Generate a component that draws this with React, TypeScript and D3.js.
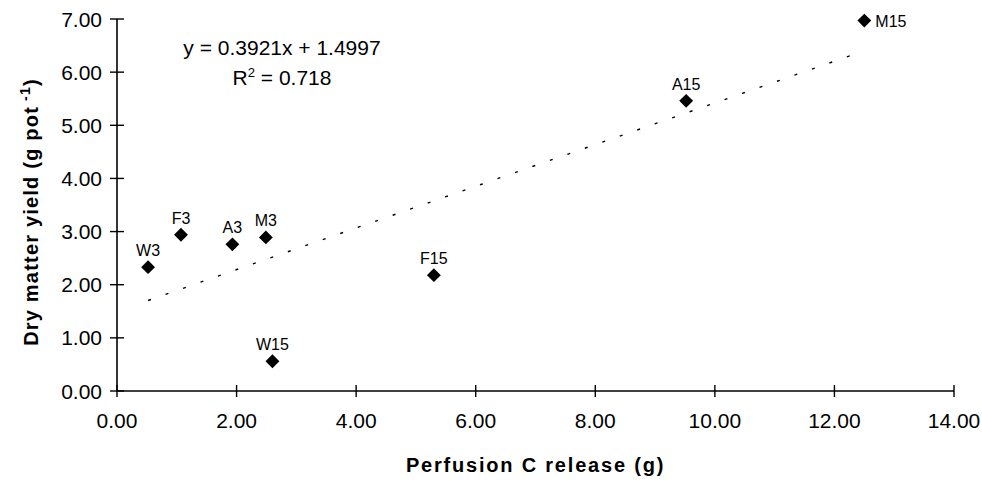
import React from "react";
import * as d3 from "d3";

const labels = ["W3", "F3", "A3", "M3", "W15", "F15", "A15", "M15"];
const xValues = [0.52, 1.07, 1.93, 2.49, 2.6, 5.3, 9.52, 12.5];
const yValues = [2.33, 2.94, 2.76, 2.89, 0.56, 2.18, 5.46, 6.97];
const xTicks = [0, 2, 4, 6, 8, 10, 12, 14];
const yTicks = [0, 1, 2, 3, 4, 5, 6, 7];
const slope = 0.3921;
const intercept = 1.4997;
const r2 = 0.718;

const W = 982;
const H = 482;
const FONT = "'Liberation Sans', Arial, Helvetica, sans-serif";

export default function App() {
  const x = d3.scaleLinear().domain([0, 14]).range([117, 954]);
  const y = d3.scaleLinear().domain([0, 7]).range([391, 19]);

  const [xmin, xmax] = d3.extent(xValues) as [number, number];
  const trend = d3
    .line<number>()
    .x((d) => x(d))
    .y((d) => y(slope * d + intercept))([xmin, xmax]);

  const diamond = d3.symbol().type(d3.symbolSquare).size(96)();

  const points = labels.map((l, i) => ({ l, xv: xValues[i], yv: yValues[i] }));

  return (
    <svg
      width={W}
      height={H}
      style={{ position: "absolute", left: 0, top: 0, background: "#fff" }}
      fontFamily={FONT}
    >
      <rect x={0} y={0} width={W} height={H} fill="#fff" />
      {/* trend line */}
      <path
        d={trend || ""}
        fill="none"
        stroke="#000"
        strokeWidth={1.4}
        strokeDasharray="3 15.5"
      />
      {/* axes */}
      <line x1={x(0)} x2={x(14)} y1={y(0)} y2={y(0)} stroke="#000" strokeWidth={1.6} />
      <line x1={x(0)} x2={x(0)} y1={y(0)} y2={y(7)} stroke="#000" strokeWidth={1.6} />
      {xTicks.map((t) => (
        <g key={"xt" + t}>
          <line x1={x(t)} x2={x(t)} y1={y(0) - 6} y2={y(0) + 6} stroke="#000" strokeWidth={1.4} />
          <text x={x(t)} y={428} textAnchor="middle" fontSize={21} fill="#000">
            {t.toFixed(2)}
          </text>
        </g>
      ))}
      {yTicks.map((t) => (
        <g key={"yt" + t}>
          <line x1={x(0) - 7} x2={x(0) + 7} y1={y(t)} y2={y(t)} stroke="#000" strokeWidth={1.4} />
          <text x={102} y={y(t) + 7.5} textAnchor="end" fontSize={21} fill="#000">
            {t.toFixed(2)}
          </text>
        </g>
      ))}
      {/* points */}
      {points.map((p) => (
        <g key={p.l}>
          <path
            d={diamond || ""}
            transform={`translate(${x(p.xv)},${y(p.yv)}) rotate(45)`}
            fill="#000"
          />
          {p.l === "M15" ? (
            <text x={x(p.xv) + 11} y={y(p.yv) + 6} fontSize={16} fill="#000">
              {p.l}
            </text>
          ) : (
            <text x={x(p.xv)} y={y(p.yv) - 11} textAnchor="middle" fontSize={16} fill="#000">
              {p.l}
            </text>
          )}
        </g>
      ))}
      {/* equation */}
      <text x={282} y={55} textAnchor="middle" fontSize={21} fill="#000">
        {`y = ${slope}x + ${intercept}`}
      </text>
      <text x={282} y={85} textAnchor="middle" fontSize={21} fill="#000">
        R
        <tspan fontSize={13} dy={-8}>
          2
        </tspan>
        <tspan dy={8}>{` = ${r2}`}</tspan>
      </text>
      {/* axis titles */}
      <text
        x={535.5}
        y={472}
        textAnchor="middle"
        fontSize={20}
        fontWeight="bold"
        letterSpacing={1.8}
        fill="#000"
      >
        Perfusion C release (g)
      </text>
      <text
        transform="translate(38,212) rotate(-90)"
        textAnchor="middle"
        fontSize={20}
        fontWeight="bold"
        letterSpacing={1.2}
        fill="#000"
      >
        Dry matter yield (g pot
        <tspan fontSize={14} dy={-8}>
          {" -1"}
        </tspan>
        <tspan dy={8}>)</tspan>
      </text>
    </svg>
  );
}
